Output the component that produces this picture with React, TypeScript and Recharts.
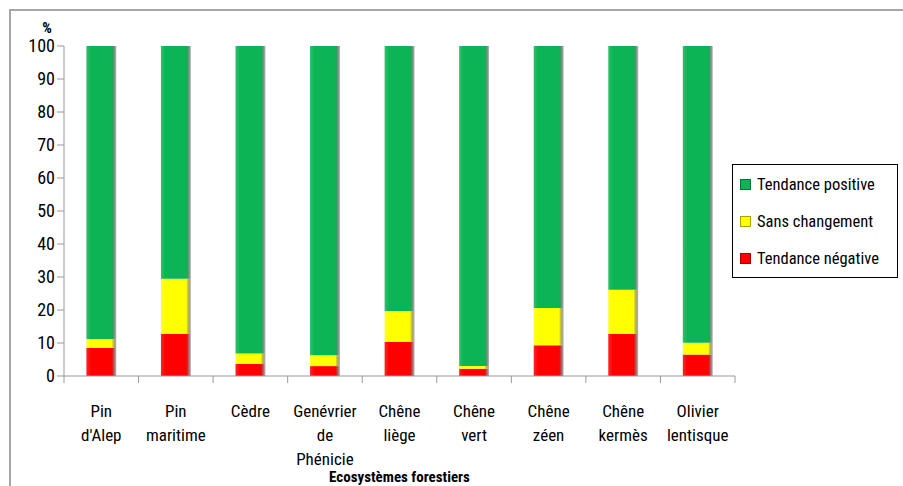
import React from 'react';
import { BarChart, Bar, XAxis, YAxis, Label } from 'recharts';

const categories = [
  "Pin\nd'Alep",
  'Pin\nmaritime',
  'Cèdre',
  'Genévrier\nde\nPhénicie',
  'Chêne\nliège',
  'Chêne\nvert',
  'Chêne\nzéen',
  'Chêne\nkermès',
  'Olivier\nlentisque',
];
const negative = [8.5, 12.7, 3.6, 3.0, 10.3, 2.2, 9.3, 12.7, 6.5];
const unchanged = [2.7, 16.8, 3.2, 3.3, 9.4, 0.8, 11.3, 13.4, 3.6];
const positive = [88.8, 70.5, 93.2, 93.7, 80.3, 97.0, 79.4, 73.9, 89.9];
const yTicks = [0, 10, 20, 30, 40, 50, 60, 70, 80, 90, 100];

const series = [
  { key: 'neg', name: 'Tendance négative', color: '#ff0000', grad: 'gRed' },
  { key: 'unc', name: 'Sans changement', color: '#ffff00', grad: 'gYellow' },
  { key: 'pos', name: 'Tendance positive', color: '#0bb455', grad: 'gGreen' },
];

const data = categories.map((c, i) => ({
  cat: c,
  neg: negative[i],
  unc: unchanged[i],
  pos: positive[i],
}));

const FONT = "'Liberation Sans Narrow', 'Roboto Condensed', 'Open Sans', sans-serif";

const W = 903;
const H = 486;
const M = { top: 46, right: 168, left: 10, bottom: 10 };
const YW = 54;
const plotLeft = M.left + YW;
const plotRight = W - M.right;
const step = (plotRight - plotLeft) / categories.length;

const XTick = (props: any) => {
  const { x, y, payload, index } = props;
  const lines = String(payload.value).split('\n');
  return (
    <g>
      <line x1={x - step / 2} x2={x - step / 2} y1={y - 8} y2={y - 1} stroke="#999" />
      {index === categories.length - 1 && (
        <line x1={x + step / 2} x2={x + step / 2} y1={y - 8} y2={y - 1} stroke="#999" />
      )}
      <text x={x} y={y} textAnchor="middle" fontFamily={FONT} fontSize={17} fill="#000">
        {lines.map((l, i) => (
          <tspan key={i} x={x} dy={i === 0 ? 33 : 24}>
            {l}
          </tspan>
        ))}
      </text>
    </g>
  );
};

const LegendBox = () => (
  <div
    style={{
      border: '1px solid #000',
      width: 166,
      height: 114,
      boxSizing: 'border-box',
      background: '#fff',
      fontFamily: FONT,
      fontSize: 16.5,
      color: '#000',
      paddingTop: 1,
      paddingLeft: 7,
    }}
  >
    {[...series].reverse().map((s) => (
      <div key={s.key} style={{ display: 'flex', alignItems: 'center', height: 37 }}>
        <span
          style={{
            display: 'inline-block',
            width: 9,
            height: 9,
            background: s.color,
            border: '1px solid rgba(0,0,0,0.35)',
            marginRight: 6,
          }}
        />
        <span>{s.name}</span>
      </div>
    ))}
  </div>
);

export default function App() {
  return (
    <div style={{ position: 'absolute', left: 0, top: 0, width: W, height: H, background: '#fff' }}>
      <div
        style={{
          position: 'absolute',
          left: 9,
          top: 9,
          width: W,
          height: H,
          borderLeft: '2px solid #a6a6a6',
          borderTop: '2px solid #a6a6a6',
        }}
      />
      <div style={{ position: 'absolute', left: 0, top: 0 }}>
        <BarChart width={W} height={H} data={data} margin={M} barCategoryGap="30%">
          <defs>
            {series.map((s) => (
              <linearGradient key={s.grad} id={s.grad} x1="0" y1="0" x2="1" y2="0">
                <stop offset="0%" stopColor={s.color} stopOpacity={0.85} />
                <stop offset="15%" stopColor={s.color} />
                <stop offset="85%" stopColor={s.color} />
                <stop offset="100%" stopColor="#000" stopOpacity={0.25} />
              </linearGradient>
            ))}
          </defs>
          <XAxis
            dataKey="cat"
            interval={0}
            height={100}
            axisLine={{ stroke: '#999' }}
            tickLine={false}
            tick={<XTick />}
          >
            <Label
              content={() => (
                <text
                  x={(plotLeft + plotRight) / 2}
                  y={482}
                  textAnchor="middle"
                  fontFamily={FONT}
                  fontSize={15}
                  fontWeight="bold"
                  fill="#000"
                >
                  Ecosystèmes forestiers
                </text>
              )}
            />
          </XAxis>
          <YAxis
            width={YW}
            domain={[0, 100]}
            ticks={yTicks}
            interval={0}
            axisLine={{ stroke: '#999' }}
            tickLine={{ stroke: '#999' }}
            tickSize={7}
            tick={{ fontFamily: FONT, fontSize: 18, fill: '#000' }}
          >
            <Label
              content={() => (
                <text x={47} y={33} textAnchor="middle" fontFamily={FONT} fontSize={15} fontWeight="bold" fill="#000">
                  %
                </text>
              )}
            />
          </YAxis>
          {series.map((s) => (
            <Bar
              key={s.key}
              dataKey={s.key}
              name={s.name}
              stackId="a"
              fill={`url(#${s.grad})`}
              isAnimationActive={false}
            />
          ))}
        </BarChart>
      </div>
      <div style={{ position: 'absolute', left: 732, top: 164 }}>
        <LegendBox />
      </div>
    </div>
  );
}
